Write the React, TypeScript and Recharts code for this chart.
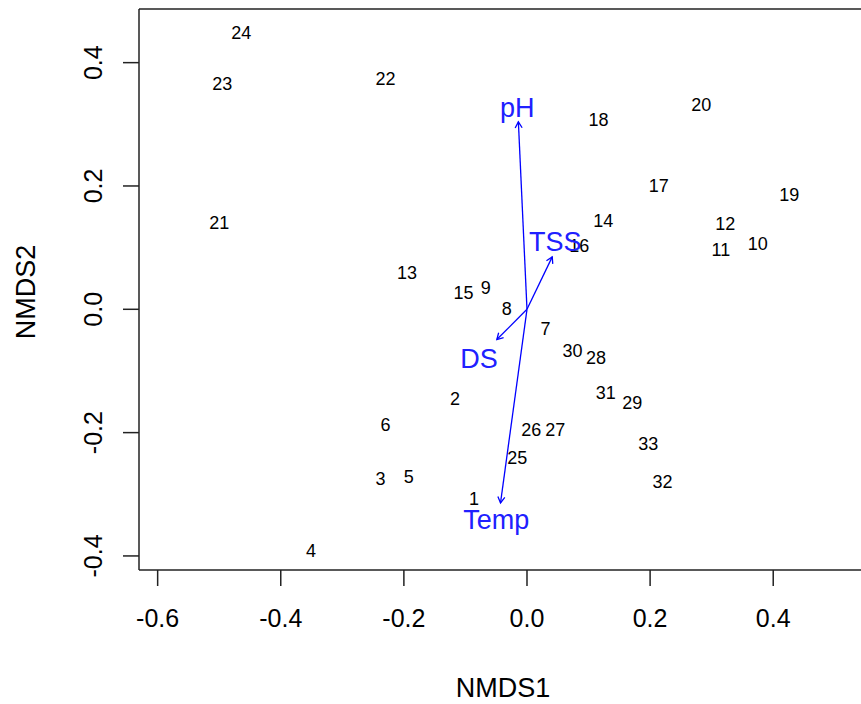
import { ReferenceLine, Scatter, ScatterChart, XAxis, YAxis } from "recharts";

const FONT = "'Liberation Sans', Arial, sans-serif";

// site scores on the two NMDS axes
const siteIds = [
  "1", "2", "3", "4", "5", "6", "7", "8", "9", "10", "11",
  "12", "13", "14", "15", "16", "17", "18", "19", "20", "21", "22",
  "23", "24", "25", "26", "27", "28", "29", "30", "31", "32", "33",
];
const nmds1 = [
  -0.086, -0.117, -0.238, -0.351, -0.192, -0.23, 0.03, -0.033, -0.067, 0.375, 0.315,
  0.322, -0.195, 0.124, -0.103, 0.085, 0.214, 0.116, 0.426, 0.283, -0.5, -0.23,
  -0.495, -0.464, -0.016, 0.007, 0.046, 0.112, 0.171, 0.074, 0.128, 0.22, 0.197,
];
const nmds2 = [
  -0.307, -0.145, -0.275, -0.392, -0.272, -0.188, -0.032, 0.001, 0.035, 0.106, 0.096,
  0.138, 0.059, 0.144, 0.027, 0.102, 0.2, 0.307, 0.185, 0.332, 0.14, 0.374,
  0.366, 0.448, -0.241, -0.196, -0.196, -0.079, -0.152, -0.068, -0.136, -0.28, -0.219,
];

// fitted environmental vectors
const envNames = ["pH", "TSS", "DS", "Temp"];
const envX = [-0.014, 0.041, -0.049, -0.043];
const envY = [0.304, 0.085, -0.049, -0.314];
const envLabelX = [-0.016, 0.046, -0.078, -0.05];
const envLabelY = [0.327, 0.109, -0.08, -0.342];

const xTicks = [-0.6, -0.4, -0.2, 0, 0.2, 0.4];
const yTicks = [-0.4, -0.2, 0, 0.2, 0.4];

const X_DOMAIN: [number, number] = [-0.6303, 0.5426];
const Y_DOMAIN: [number, number] = [-0.4228, 0.487];

const sites = siteIds.map((id, i) => ({ x: nmds1[i], y: nmds2[i], id }));
const envLabels = envNames.map((name, i) => ({ x: envLabelX[i], y: envLabelY[i], id: name }));

const SiteLabel = (props: any) => (
  <text
    x={props.cx}
    y={props.cy}
    textAnchor="middle"
    dominantBaseline="central"
    fontSize={18}
    fontFamily={FONT}
    fill="#000"
  >
    {props.payload.id}
  </text>
);

const EnvLabel = (props: any) => (
  <text
    x={props.cx}
    y={props.cy}
    textAnchor="middle"
    dominantBaseline="central"
    fontSize={27}
    fontFamily={FONT}
    fill="#2020ff"
  >
    {props.payload.id}
  </text>
);

const Arrow = (props: any) => {
  const { x1, y1, x2, y2 } = props;
  const a = Math.atan2(y2 - y1, x2 - x1);
  const len = 7;
  const s = Math.PI / 6;
  const p1 = `${x2 - len * Math.cos(a - s)},${y2 - len * Math.sin(a - s)}`;
  const p2 = `${x2 - len * Math.cos(a + s)},${y2 - len * Math.sin(a + s)}`;
  return (
    <g stroke="#0000ff" strokeWidth={1.3} fill="none">
      <line x1={x1} y1={y1} x2={x2} y2={y2} />
      <polyline points={`${p1} ${x2},${y2} ${p2}`} />
    </g>
  );
};

const YTick = ({ x, y, payload }: any) => (
  <text
    x={x}
    y={y}
    transform={`rotate(-90 ${x} ${y})`}
    textAnchor="middle"
    fontSize={25}
    fontFamily={FONT}
    fill="#000"
  >
    {Number(payload.value).toFixed(1)}
  </text>
);

const App = () => {
  return (
    <div style={{ position: "absolute", left: 0, top: 0, background: "#fff" }}>
      <ScatterChart
        width={861}
        height={704}
        margin={{ top: 9, right: 0, bottom: 0, left: 0 }}
      >
        <XAxis
          dataKey="x"
          type="number"
          domain={X_DOMAIN}
          ticks={xTicks}
          allowDataOverflow
          interval={0}
          height={134}
          tickSize={16}
          tickMargin={23}
          stroke="#222"
          strokeWidth={1.5}
          tickFormatter={(v: number) => v.toFixed(1)}
          tick={{ fill: "#000", fontSize: 25, fontFamily: FONT }}
          label={{
            content: () => (
              <text x={503} y={697} textAnchor="middle" fontSize={27} fontFamily={FONT} fill="#000">
                NMDS1
              </text>
            ),
          }}
        />
        <YAxis
          dataKey="y"
          type="number"
          domain={Y_DOMAIN}
          ticks={yTicks}
          allowDataOverflow
          interval={0}
          width={139}
          tickSize={16}
          tickMargin={21}
          stroke="#222"
          strokeWidth={1.5}
          tick={<YTick />}
          label={{
            content: () => (
              <text
                x={35}
                y={292}
                transform="rotate(-90 35 292)"
                textAnchor="middle"
                fontSize={27}
                fontFamily={FONT}
                fill="#000"
              >
                NMDS2
              </text>
            ),
          }}
        />
        <ReferenceLine y={Y_DOMAIN[1]} stroke="#222" strokeWidth={1.5} ifOverflow="visible" />
        <Scatter data={sites} shape={SiteLabel} isAnimationActive={false} />
        {envNames.map((name, i) => (
          <ReferenceLine
            key={name}
            segment={[
              { x: 0, y: 0 },
              { x: envX[i], y: envY[i] },
            ]}
            shape={Arrow}
            ifOverflow="visible"
          />
        ))}
        <Scatter data={envLabels} shape={EnvLabel} isAnimationActive={false} />
      </ScatterChart>
    </div>
  );
};

export default App;
